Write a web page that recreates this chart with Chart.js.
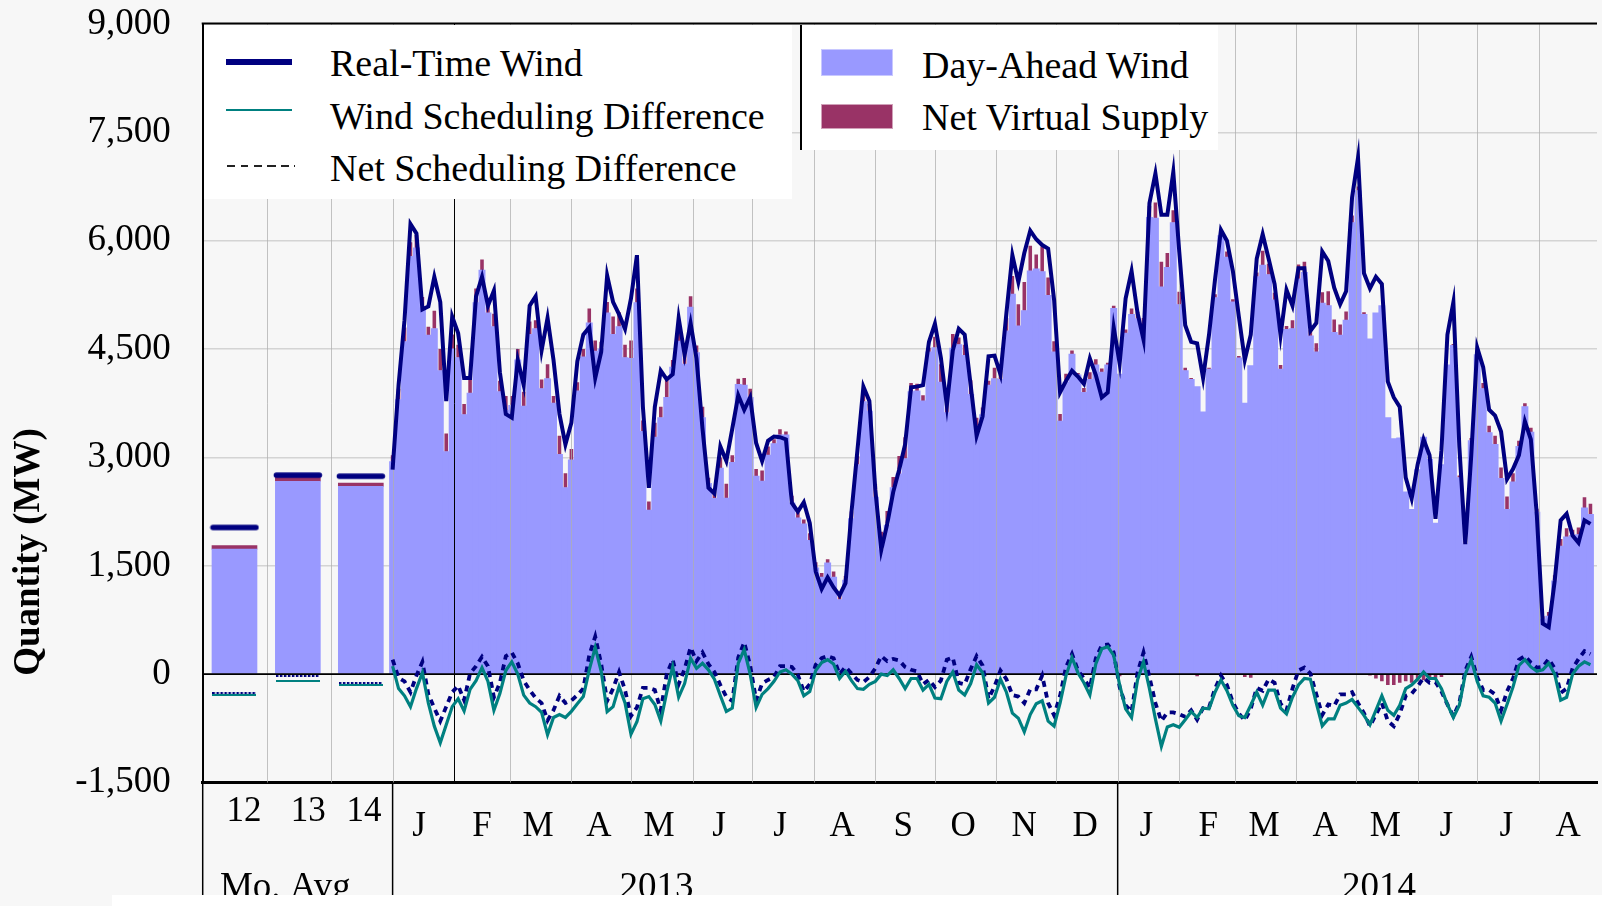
<!DOCTYPE html>
<html>
<head>
<meta charset="utf-8">
<script src="https://cdn.jsdelivr.net/npm/chart.js@4.4.1/dist/chart.umd.min.js"></script>
<style>
  html, body { margin: 0; padding: 0; background: #f7f7f7; }
  #wrap { position: relative; width: 1602px; height: 906px; overflow: hidden; }
  #chart { position: absolute; left: 0; top: 0; }
  .legend-box { position: absolute; background: #fff; box-sizing: border-box;
    font-family: 'Liberation Serif', 'Times New Roman', serif; font-size: 38px; color: #000; }
  .legend-item { position: absolute; white-space: nowrap; line-height: 1; }
  .swatch { position: absolute; }
</style>
</head>
<body>
<div id="wrap">
  <canvas id="chart" width="1602" height="906"></canvas>

  <div class="legend-box" style="left:204px; top:25px; width:588px; height:174px;">
    <div class="swatch" style="left:22px; top:34px; width:66px; height:6px; background:#000080;"></div>
    <div class="legend-item" style="left:126px; top:19px;">Real-Time Wind</div>
    <div class="swatch" style="left:22px; top:84px; width:66px; height:2px; background:#008080;"></div>
    <div class="legend-item" style="left:126px; top:72px;">Wind Scheduling Difference</div>
    <div class="swatch" style="left:23px; top:140px; width:68px; height:2px;
      background:repeating-linear-gradient(to right, #222 0 8px, transparent 8px 13.5px);"></div>
    <div class="legend-item" style="left:126px; top:124px;">Net Scheduling Difference</div>
  </div>

  <div class="legend-box" style="left:800px; top:25px; width:418px; height:125px; border-left:2px solid #000;">
    <div class="swatch" style="left:20px; top:25px; width:70px; height:25px; background:#9999ff; box-shadow:0 0 0 1px #c8c8ff;"></div>
    <div class="legend-item" style="left:120px; top:21px;">Day-Ahead Wind</div>
    <div class="swatch" style="left:20px; top:80px; width:70px; height:23px; background:#993366; box-shadow:0 0 0 1px #d0a0b8;"></div>
    <div class="legend-item" style="left:120px; top:73px;">Net Virtual Supply</div>
  </div>
</div>

<script>
// daily series, one value every STEP_DAYS days starting 1 Jan 2013 (MW)
const STEP_DAYS = 3;

const rtWind = [
  2830, 4000, 4900, 6230, 6100, 5050, 5090, 5500, 5150, 3780,
  4950, 4720, 4100, 4100, 5230, 5500, 5100, 5310, 4180, 3600,
  3550, 4350, 4000, 5100, 5230, 4480, 4930, 4350, 3600, 3180,
  3480, 4330, 4700, 4800, 4100, 4460, 5520, 5150, 4980, 4780,
  5200, 5800, 3700, 2580, 3700, 4200, 4080, 4150, 4930, 4420,
  4860, 4370, 3400, 2580, 2500, 3150, 2950, 3400, 3860, 3660,
  3830, 3200, 2950, 3230, 3290, 3280, 3250, 2370, 2250, 2380,
  2090, 1420, 1180, 1340, 1200, 1090, 1260, 2240, 3100, 3980,
  3780, 2550, 1720, 2080, 2520, 2830, 3180, 3970, 3980, 4000,
  4600, 4850, 4380, 3720, 4480, 4780, 4700, 4000, 3300, 3570,
  4400, 4410, 4150, 5000, 5800, 5430, 5830, 6140, 6020, 5940,
  5890, 5180, 3900, 4060, 4200, 4120, 4020, 4370, 4140, 3830,
  3900, 4800, 4300, 5200, 5580, 5000, 4630, 6520, 6930, 6360,
  6360, 6950, 5850, 4830, 4600, 4580, 4100, 4700, 5460, 6150,
  6000, 5580, 4950, 4350, 4700, 5750, 6090, 5750, 5400, 4690,
  5320, 5100, 5620, 5620, 4750, 4860, 5850, 5720, 5350, 5120,
  5300, 6600, 7150, 5550, 5340, 5500, 5400, 4050, 3830, 3700,
  2720, 2430, 2900, 3250, 3030, 2150, 3100, 4700, 5150, 3150,
  1800, 3030, 4520, 4250, 3660, 3580, 3360, 2700, 2840, 3030,
  3500, 3250, 2200, 700, 650, 1290, 2130, 2220, 1920, 1820,
  2130, 2080
];

const windSchedDiff = [
  110, -200, -300, -450, -200, 20, -400, -720, -950, -700,
  -450, -340, -510, -210, -90, 90, -100, -500, -270, 50,
  170, 0, -290, -400, -450, -530, -840, -600, -560, -600,
  -515, -410, -310, 60, 370, 40, -520, -450, -170, -400,
  -830, -660, -340, -310, -420, -650, -250, 100, -320, -130,
  220, 80, 150, 60, -70, -300, -515, -470, 150, 340,
  0, -460, -280, -200, -100, 30, 60, 0, -90, -300,
  -240, 50, 160, 200, 140, -60, 40, -90, -200, -210,
  -140, -100, 0, -20, 60, -60, -200, -60, -60, -220,
  -140, -330, -340, -100, 30, -220, -290, -130, 130, 20,
  -400, -320, -70, -250, -540, -610, -800, -560, -410, -370,
  -650, -720, -400, -20, 230, 20, -120, -290, 140, 350,
  380, 260, -150, -480, -600, -80, 170, -200, -620, -1000,
  -730, -700, -735, -630, -520, -600, -470, -480, -250, -80,
  -230, -430, -575, -600, -430, -250, -430, -220, -220, -470,
  -550, -320, -150, -60, -70, -400, -715, -620, -620, -430,
  -400, -350, -460, -570, -700, -500, -300, -500, -570, -430,
  -200, -150, -70, 30, -60, -60, -200, -420, -600, -430,
  0, 200, -100, -300, -320, -400, -650, -420, -180, 120,
  200, 100, 40, 60, 150, 0, -360, -320, 0, 110,
  170, 130
];

const netSchedDiff = [
  200, -50, -100, -250, -20, 170, -280, -470, -650, -450,
  -250, -160, -360, 10, 110, 240, 110, -320, -120, 250,
  300, 150, -90, -220, -330, -400, -640, -500, -300, -400,
  -365, -290, -200, 260, 520, 140, -370, -200, 30, -220,
  -580, -460, -190, -190, -220, -500, 0, 200, -140, 70,
  370, 180, 300, 140, 30, -150, -315, -370, 230, 440,
  120, -360, -130, -80, -40, 110, 110, 100, -10, -240,
  -140, 130, 220, 250, 220, 0, 100, 10, -80, -110,
  -40, 80, 250, 180, 210, 190, 100, 60, 40, -140,
  -80, -180, -90, 200, 230, -120, -140, 70, 250, 120,
  -340, -170, 50, -70, -290, -310, -400, -210, -210, -20,
  -400, -570, -300, 100, 280, 50, -60, -190, 220, 400,
  410, 300, -180, -430, -520, 20, 300, -40, -400, -650,
  -530, -530, -555, -590, -500, -630, -470, -460, -200, -20,
  -150, -390, -545, -640, -480, -190, -230, -70, -120, -410,
  -500, -200, 50, 90, 10, -280, -565, -420, -440, -280,
  -280, -250, -400, -540, -720, -560, -400, -650, -720, -550,
  -300, -270, -170, -50, -120, -110, -240, -420, -580, -400,
  50, 240, -40, -220, -220, -280, -500, -240, -60, 200,
  250, 160, 90, 100, 210, 80, -260, -200, 80, 210,
  320, 280
];

const dayAheadWind = [
  2940, 3800, 4600, 5780, 5900, 5070, 4690, 4780, 4200, 3080,
  4500, 4380, 3590, 3890, 5140, 5590, 5000, 4810, 3910, 3650,
  3720, 4350, 3710, 4700, 4780, 3950, 4090, 3750, 3040, 2580,
  2965, 3920, 4390, 4860, 4470, 4500, 5000, 4700, 4810, 4380,
  4370, 5140, 3360, 2270, 3280, 3550, 3830, 4250, 4610, 4290,
  5080, 4450, 3550, 2640, 2430, 2850, 2435, 2930, 4010, 4000,
  3830, 2740, 2670, 3030, 3190, 3310, 3310, 2370, 2160, 2080,
  1850, 1470, 1340, 1540, 1340, 1030, 1300, 2150, 2900, 3770,
  3640, 2450, 1720, 2060, 2580, 2770, 2980, 3910, 3920, 3780,
  4460, 4520, 4040, 3620, 4510, 4560, 4410, 3870, 3430, 3590,
  4000, 4090, 4080, 4750, 5260, 4820, 5030, 5580, 5610, 5570,
  5240, 4460, 3500, 4040, 4430, 4140, 3900, 4080, 4280, 4180,
  4280, 5060, 4150, 4720, 4980, 4920, 4800, 6320, 6310, 5360,
  5630, 6250, 5115, 4200, 4080, 3980, 3630, 4220, 5210, 6070,
  5770, 5150, 4375, 3750, 4270, 5500, 5660, 5530, 5180, 4220,
  4770, 4780, 5470, 5560, 4680, 4460, 5135, 5100, 4730, 4690,
  4900, 6250, 6690, 4980, 4640, 5000, 5100, 3550, 3260, 3270,
  2520, 2280, 2830, 3280, 2970, 2090, 2900, 4280, 4550, 2720,
  1800, 3230, 4420, 3950, 3340, 3180, 2710, 2280, 2660, 3150,
  3700, 3350, 2240, 760, 800, 1290, 1770, 1900, 1920, 1930,
  2300, 2210
];

const netVirtualSupply = [
  90, 150, 200, 200, 180, 150, 120, 250, 300, 250,
  200, 180, 150, 220, 200, 150, 210, 180, 150, 200,
  130, 150, 200, 180, 120, 130, 200, 100, 260, 200,
  150, 120, 110, 200, 150, 100, 150, 250, 200, 180,
  250, 200, 150, 120, 200, 150, 250, 100, 180, 200,
  150, 100, 150, 80, 100, 150, 200, 100, 80, 100,
  120, 100, 150, 120, 60, 80, 50, 100, 80, 60,
  100, 80, 60, 50, 80, 60, 60, 100, 120, 100,
  100, 180, 250, 200, 150, 250, 300, 120, 100, 80,
  60, 150, 250, 300, 200, 100, 150, 200, 120, 100,
  60, 150, 120, 180, 250, 300, 400, 350, 200, 350,
  250, 150, 100, 120, 50, 30, 60, 100, 80, 50,
  30, 40, -30, 50, 80, 100, 130, 160, 220, 350,
  200, 170, 180, 40, 20, -30, 0, 20, 50, 60,
  80, 40, 30, -40, -50, 60, 200, 150, 100, 60,
  50, 120, 200, 150, 80, 120, 150, 200, 180, 150,
  120, 100, 60, 30, -20, -60, -100, -150, -150, -120,
  -100, -120, -100, -80, -60, -50, -40, 0, 20, 30,
  50, 40, 60, 80, 100, 120, 150, 180, 120, 80,
  50, 60, 50, 40, 60, 80, 100, 120, 80, 100,
  150, 150
];

// monthly averages for 2012, 2013, 2014
const avgYears = ['12', '13', '14'];
const avgCenters = [-79.6, -47.7, -16.0];
const avgDayAhead = [1730, 2670, 2600];
const avgVirtual = [50, 60, 45];
const avgRealTime = [2030, 2755, 2740];
const avgWindDiff = [-290, -95, -145];
const avgNetDiff = [-265, -30, -120];

// axis layout, in days from 1 Jan 2013
const X_MIN = -95.6;
const X_MAX = 606.3;
const gridDays = [-63, -31, 0, 31, 59, 90, 120, 151, 181, 212, 243, 273, 304, 334,
  365, 396, 424, 455, 485, 516, 546, 577];
const yearLabelDays = [-74.8, -42.5, -14.4];
const monthLetters = ['J', 'F', 'M', 'A', 'M', 'J', 'J', 'A', 'S', 'O', 'N', 'D',
  'J', 'F', 'M', 'A', 'M', 'J', 'J', 'A'];
const monthLabelDays = [13.3, 45.0, 73.2, 103.9, 134.1, 164.3, 195.0, 226.3, 257.0, 287.2,
  317.9, 348.6, 379.4, 410.6, 438.7, 469.5, 499.7, 530.4, 560.6, 591.8];
const groupLabels = ['Mo. Avg', '2013', '2014'];
const groupLabelDays = [-54.0, 132.9, 496.6];
const groupEdges = [0, 365];

const NAVY = '#000080';
const TEAL = '#008080';
const PURPLE = '#9999ff';
const MAROON = '#993366';
const SERIF = "'Liberation Serif', 'Times New Roman', serif";
const CLEAR = 'rgba(0,0,0,0)';

const days = rtWind.map((_, i) => i * STEP_DAYS);
const pts = arr => arr.map((v, i) => ({ x: days[i], y: v }));
const avgPts = arr => arr.map((v, i) => ({ x: avgCenters[i], y: v }));

// first label row: year numbers sit half a line above the month letters
const rowTicks = yearLabelDays.concat(monthLabelDays);
const rowLabels = avgYears.map(t => [t, '']).concat(monthLetters.map(m => ['', m]));

function markerCanvas(w, h, paint) {
  const c = document.createElement('canvas');
  c.width = w;
  c.height = h;
  paint(c.getContext('2d'));
  return c;
}

const rtMarker = markerCanvas(50, 8, g => {
  g.strokeStyle = NAVY;
  g.lineWidth = 5.5;
  g.lineCap = 'round';
  g.beginPath();
  g.moveTo(3.5, 4);
  g.lineTo(46.5, 4);
  g.stroke();
});
const windDiffMarker = markerCanvas(44, 2, g => {
  g.fillStyle = TEAL;
  g.fillRect(0, 0, 44, 2);
});
const netDiffMarker = markerCanvas(44, 2, g => {
  g.fillStyle = NAVY;
  for (let x = 0; x < 44; x += 4) g.fillRect(x, 0, 2.5, 2);
});

// frame, month grid over the bars, zero line and y title
const framePlugin = {
  id: 'frame',
  beforeDraw(chart) {
    const ctx = chart.ctx;
    ctx.save();
    ctx.fillStyle = '#f7f7f7';
    ctx.fillRect(0, 0, chart.width, chart.height);
    ctx.restore();
  },
  beforeDatasetDraw(chart, args) {
    if (chart.data.datasets[args.index].label !== 'Net Scheduling Difference') return;
    const { ctx, chartArea, scales } = chart;
    ctx.save();
    ctx.lineWidth = 1;
    gridDays.forEach(d => {
      const x = Math.round(scales.x.getPixelForValue(d)) + 0.5;
      ctx.strokeStyle = d === 31 ? '#000' : 'rgba(175,175,175,0.75)';
      ctx.beginPath();
      ctx.moveTo(x, chartArea.top);
      ctx.lineTo(x, chartArea.bottom);
      ctx.stroke();
    });
    const y0 = scales.y.getPixelForValue(0);
    ctx.strokeStyle = '#000';
    ctx.lineWidth = 1.6;
    ctx.beginPath();
    ctx.moveTo(chartArea.left, y0);
    ctx.lineTo(chartArea.right, y0);
    ctx.stroke();
    ctx.restore();
  },
  afterDraw(chart) {
    const { ctx, chartArea, scales } = chart;
    ctx.save();
    ctx.strokeStyle = '#000';
    ctx.lineWidth = 2;
    ctx.beginPath();
    ctx.moveTo(chartArea.left - 1, chartArea.top - 0.5);
    ctx.lineTo(chartArea.right, chartArea.top - 0.5);
    ctx.stroke();

    ctx.lineWidth = 1.5;
    const edges = [chartArea.left].concat(groupEdges.map(d => scales.x.getPixelForValue(d)));
    edges.forEach(x => {
      ctx.beginPath();
      ctx.moveTo(x, chartArea.bottom);
      ctx.lineTo(x, chart.height);
      ctx.stroke();
    });

    ctx.translate(29, 552);
    ctx.rotate(-Math.PI / 2);
    ctx.fillStyle = '#000';
    ctx.font = 'bold 37px ' + SERIF;
    ctx.textAlign = 'center';
    ctx.textBaseline = 'middle';
    ctx.fillText('Quantity (MW)', 0, 0);
    ctx.restore();

    ctx.save();
    ctx.fillStyle = '#ffffff';
    ctx.fillRect(112, 895, chart.width - 112, chart.height - 895);
    ctx.restore();
  }
};

// a bottom axis that only carries labels; the invisible tick length sets
// how far below its top edge the first text line sits
function labelAxis(values, labels, font, drop, weight, height) {
  return {
    type: 'linear',
    position: 'bottom',
    weight: weight,
    offset: false,
    min: X_MIN,
    max: X_MAX,
    grid: { display: true, offset: false, drawOnChartArea: false, drawTicks: true, tickLength: drop, tickColor: CLEAR },
    border: { display: false },
    afterBuildTicks: s => { s.ticks = values.map(v => ({ value: v })); },
    afterFit: s => { s.height = height; },
    ticks: {
      autoSkip: false,
      maxRotation: 0,
      minRotation: 0,
      padding: 0,
      color: '#000',
      font: font,
      callback: (v, i) => labels[i]
    }
  };
}

new Chart(document.getElementById('chart'), {
  type: 'bar',
  data: {
    datasets: [
      {
        type: 'line', label: 'Real-Time Wind', data: pts(rtWind),
        borderColor: NAVY, borderWidth: 4, pointRadius: 0, tension: 0,
        stack: 'rt', order: 1, xAxisID: 'x', yAxisID: 'y'
      },
      {
        type: 'line', label: 'Wind Scheduling Difference', data: pts(windSchedDiff),
        borderColor: TEAL, borderWidth: 3.2, pointRadius: 0, tension: 0,
        stack: 'wsd', order: 2, xAxisID: 'x', yAxisID: 'y'
      },
      {
        type: 'line', label: 'Net Scheduling Difference', data: pts(netSchedDiff),
        borderColor: NAVY, borderWidth: 3.8, borderDash: [6, 5],
        pointRadius: 0, tension: 0,
        stack: 'nsd', order: 3, xAxisID: 'x', yAxisID: 'y'
      },
      {
        type: 'line', label: 'Real-Time Wind (avg)', data: avgPts(avgRealTime),
        showLine: false, pointStyle: rtMarker, pointRadius: 3,
        stack: 'rtAvg', order: 0, xAxisID: 'x', yAxisID: 'y'
      },
      {
        type: 'line', label: 'Wind Scheduling Difference (avg)', data: avgPts(avgWindDiff),
        showLine: false, pointStyle: windDiffMarker, pointRadius: 3,
        stack: 'wsdAvg', order: 0, xAxisID: 'x', yAxisID: 'y'
      },
      {
        type: 'line', label: 'Net Scheduling Difference (avg)', data: avgPts(avgNetDiff),
        showLine: false, pointStyle: netDiffMarker, pointRadius: 3,
        stack: 'nsdAvg', order: 0, xAxisID: 'x', yAxisID: 'y'
      },
      // stack order follows `order`: day-ahead first, virtual supply on top of it
      {
        label: 'Day-Ahead Wind', data: pts(dayAheadWind),
        backgroundColor: PURPLE, borderWidth: 0, barPercentage: 1, categoryPercentage: 1,
        inflateAmount: 0.5, stack: 'wind', order: 8, xAxisID: 'x', yAxisID: 'y'
      },
      {
        label: 'Net Virtual Supply', data: pts(netVirtualSupply),
        backgroundColor: MAROON, borderWidth: 0, barPercentage: 0.6, categoryPercentage: 1,
        stack: 'wind', order: 9, xAxisID: 'x', yAxisID: 'y'
      },
      {
        label: 'Day-Ahead Wind (avg)', data: avgPts(avgDayAhead),
        backgroundColor: PURPLE, borderWidth: 0, barThickness: 45,
        stack: 'wind', order: 8, xAxisID: 'x', yAxisID: 'y'
      },
      {
        label: 'Net Virtual Supply (avg)', data: avgPts(avgVirtual),
        backgroundColor: MAROON, borderWidth: 0, barThickness: 45,
        stack: 'wind', order: 9, xAxisID: 'x', yAxisID: 'y'
      }
    ]
  },
  options: {
    responsive: false,
    devicePixelRatio: 1,
    animation: false,
    events: [],
    layout: { padding: { top: 24, left: 0, right: 0, bottom: 0 } },
    plugins: {
      legend: { display: false },
      tooltip: { enabled: false },
      title: { display: false }
    },
    scales: {
      x: {
        type: 'linear',
        position: 'bottom',
        weight: 0,
        offset: false,
        min: X_MIN,
        max: X_MAX,
        grid: { display: false, offset: false },
        border: { display: true, color: '#000', width: 3 },
        ticks: { display: false },
        afterBuildTicks: s => { s.ticks = gridDays.map(v => ({ value: v })); },
        afterFit: s => { s.height = 0; }
      },
      xm: labelAxis(rowTicks, rowLabels, { family: SERIF, size: 35, lineHeight: 15 / 35 }, 21.7, 1, 60),
      xg: labelAxis(groupLabelDays, groupLabels, { family: SERIF, size: 37 }, 23.6, 2, 63.5),
      y: {
        stacked: true,
        min: -1500,
        max: 9000,
        grid: { color: '#d4d4d4', lineWidth: 1.5, drawTicks: true, tickLength: 32, tickColor: CLEAR },
        border: { display: true, color: '#000', width: 2 },
        ticks: {
          stepSize: 1500,
          padding: 0,
          color: '#000',
          font: { family: SERIF, size: 37 },
          callback: v => v.toLocaleString('en-US')
        },
        afterFit: s => { s.width = 202.7; }
      }
    }
  },
  plugins: [framePlugin]
});
</script>
</body>
</html>
